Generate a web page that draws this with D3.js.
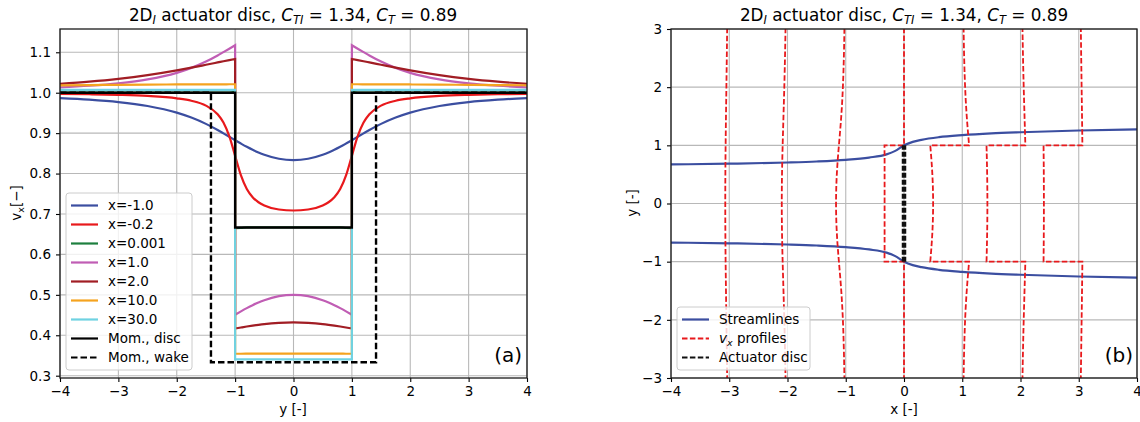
<!DOCTYPE html>
<html>
<head>
<meta charset="utf-8">
<script src="https://d3js.org/d3.v7.min.js"></script>
<style>
  body { margin: 0; background: #fff; }
  svg text { font-family: "DejaVu Sans", sans-serif; fill: #000; }
</style>
</head>
<body>
<svg width="1140" height="422"></svg>
<script>
// half profiles (y >= 0), mirrored about y = 0 when drawn
var yIn = [0, 0.25, 0.5, 0.6, 0.7, 0.8, 0.9, 1];
var yOut = [1, 1.1, 1.2, 1.3, 1.5, 1.75, 2, 2.5, 3, 3.5, 4];

// v_x; inside |y|<1 and outside |y|>1
var inM1 = [0.8333, 0.8366, 0.8465, 0.8522, 0.8588, 0.8662, 0.8742, 0.8825];
var outM1 = [0.8825, 0.8911, 0.8995, 0.9078, 0.9229, 0.9386, 0.9508, 0.9671, 0.9768, 0.9828, 0.9868];
var inM02 = [0.7086, 0.7111, 0.7211, 0.7291, 0.7415, 0.7617, 0.7953, 0.8439];
var outM02 = [0.8439, 0.8926, 0.9263, 0.9468, 0.9681, 0.9801, 0.9861, 0.9920, 0.9947, 0.9962, 0.9972];
var in0001 = [0.6667, 0.6667, 0.6667, 0.6667, 0.6667, 0.6667, 0.6655, 0.6650];
var out0001 = [1.003, 1.0, 1.0, 1.0, 1.0, 1.0, 1.0, 1.0, 1.0, 1.0, 1.0];
var in1 = [0.5000, 0.4967, 0.4868, 0.4811, 0.4745, 0.4671, 0.4591, 0.4508];
var out1 = [1.1175, 1.1089, 1.1005, 1.0922, 1.0771, 1.0614, 1.0492, 1.0329, 1.0232, 1.0172, 1.0132];
var in2 = [0.4317, 0.4306, 0.4276, 0.4258, 0.4238, 0.4216, 0.4192, 0.4167];
var out2 = [1.0833, 1.0806, 1.0778, 1.0749, 1.0691, 1.0619, 1.0551, 1.0433, 1.0341, 1.0272, 1.0220];
var in10 = [0.3545, 0.3545, 0.3544, 0.3544, 0.3544, 0.3544, 0.3543, 0.3543];
var out10 = [1.0209, 1.0209, 1.0208, 1.0208, 1.0207, 1.0206, 1.0204, 1.0200, 1.0194, 1.0189, 1.0183];
var in30 = [0.3404, 0.3404, 0.3404, 0.3404, 0.3404, 0.3404, 0.3404, 0.3404];
var out30 = [1.0071, 1.0071, 1.0071, 1.0071, 1.0071, 1.0071, 1.0071, 1.0071, 1.0071, 1.0070, 1.0070];

// extra stations for panel (b)
var inM3 = [0.9317, 0.9321, 0.9333, 0.9339, 0.9347, 0.9356, 0.9366, 0.9376];
var outM3 = [0.9376, 0.9387, 0.9399, 0.9412, 0.9438, 0.9473, 0.9508, 0.9577, 0.9640, 0.9694, 0.9740];
var inM2 = [0.9016, 0.9027, 0.9057, 0.9075, 0.9095, 0.9117, 0.9141, 0.9167];
var outM2 = [0.9167, 0.9194, 0.9222, 0.9251, 0.9309, 0.9381, 0.9449, 0.9567, 0.9659, 0.9728, 0.9780];
var in3 = [0.4016, 0.4012, 0.4000, 0.3994, 0.3986, 0.3977, 0.3967, 0.3957];
var out3 = [1.0624, 1.0613, 1.0601, 1.0588, 1.0562, 1.0527, 1.0492, 1.0423, 1.0360, 1.0306, 1.0260];

var seriesNames = ["x=-1.0", "x=-0.2", "x=0.001", "x=1.0", "x=2.0", "x=10.0", "x=30.0"];
var seriesColors = ["#3b4ea0", "#e8191c", "#1d7f3e", "#c05db4", "#a11d24", "#f5a31f", "#6fd2e2"];
var seriesIn = [inM1, inM02, in0001, in1, in2, in10, in30];
var seriesOut = [outM1, outM02, out0001, out1, out2, out10, out30];

var momDiscY = [-4, -1, -1, 1, 1, 4];
var momDiscV = [1, 1, 0.6667, 0.6667, 1, 1];
var momWakeY = [-4, -1.414, -1.414, 1.414, 1.414, 4];
var momWakeV = [1, 1, 0.3333, 0.3333, 1, 1];

var stations = [-3, -2, -1, 0, 1, 2, 3];
var stationIn = [inM3, inM2, inM1, in0001, in1, in2, in3];
var stationOut = [outM3, outM2, outM1, out0001, out1, out2, out3];

var streamX = [-4, -3, -2, -1.5, -1, -0.6, -0.3, -0.15, 0, 0.15, 0.3, 0.6, 1, 1.5, 2, 3, 4];
var streamUpper = [0.672, 0.684, 0.705, 0.722, 0.750, 0.790, 0.845, 0.905, 1.0, 1.06, 1.095, 1.14, 1.175, 1.205, 1.225, 1.255, 1.275];
var streamLower = [-0.672, -0.684, -0.705, -0.722, -0.750, -0.790, -0.845, -0.905, -1.0, -1.06, -1.095, -1.14, -1.175, -1.205, -1.225, -1.255, -1.275];

var ticksA = [-4, -3, -2, -1, 0, 1, 2, 3, 4];
var yTicksA = [0.3, 0.4, 0.5, 0.6, 0.7, 0.8, 0.9, 1.0, 1.1];
var yTicksB = [-3, -2, -1, 0, 1, 2, 3];

var svg = d3.select("svg");
var fmt = function (d) { return String(d).replace("-", "\u2212"); };

var xL = d3.scaleLinear().domain([-4, 4]).range([60, 527]);
var yL = d3.scaleLinear().domain([0.2943, 1.1576]).range([378, 29]);
var xR = d3.scaleLinear().domain([-4, 4]).range([671, 1137]);
var yR = d3.scaleLinear().domain([-3, 3]).range([378, 29]);

// mirror a half profile into pieces; continuous ones become one piece
function pieces(vin, vout) {
  var a = [], b = [], c = [];
  for (var i = yOut.length - 1; i >= 0; i--) a.push([-yOut[i], vout[i]]);
  for (var j = yIn.length - 1; j > 0; j--) b.push([-yIn[j], vin[j]]);
  for (j = 0; j < yIn.length; j++) b.push([yIn[j], vin[j]]);
  for (i = 0; i < yOut.length; i++) c.push([yOut[i], vout[i]]);
  if (Math.abs(vin[vin.length - 1] - vout[0]) < 1e-9) {
    return [a.concat(b.slice(1, b.length - 1)).concat(c)];
  }
  return [a, b, c];
}
function joined(line, segs) {
  return segs.map(function (s, i) { var p = line(s); return i ? "L" + p.slice(1) : p; }).join("");
}

function frame(xs, ys, id) {
  svg.append("clipPath").attr("id", id).append("rect")
    .attr("x", xs.range()[0]).attr("y", ys.range()[1])
    .attr("width", xs.range()[1] - xs.range()[0]).attr("height", ys.range()[0] - ys.range()[1]);
}
function grid(xs, ys, xt, yt) {
  var g = svg.append("g").attr("stroke", "#b8b8b8").attr("stroke-width", 1.1);
  g.selectAll(".gx").data(xt).enter().append("line")
    .attr("x1", xs).attr("x2", xs).attr("y1", ys.range()[0]).attr("y2", ys.range()[1]);
  g.selectAll(".gy").data(yt).enter().append("line")
    .attr("y1", ys).attr("y2", ys).attr("x1", xs.range()[0]).attr("x2", xs.range()[1]);
}
function axes(xs, ys, xt, yt, yfmt) {
  var gx = svg.append("g").attr("transform", "translate(0," + ys.range()[0] + ")")
    .call(d3.axisBottom(xs).tickValues(xt).tickSize(4).tickPadding(4).tickFormat(fmt));
  var gy = svg.append("g").attr("transform", "translate(" + xs.range()[0] + ",0)")
    .call(d3.axisLeft(ys).tickValues(yt).tickSize(4).tickPadding(5).tickFormat(yfmt));
  [gx, gy].forEach(function (g) {
    g.select(".domain").remove();
    g.selectAll("text").style("font-size", "13.5px").style("font-family", "DejaVu Sans");
    g.selectAll("line").attr("stroke", "#000").attr("stroke-width", 1.1);
  });
  svg.append("rect").attr("x", xs.range()[0]).attr("y", ys.range()[1])
    .attr("width", xs.range()[1] - xs.range()[0]).attr("height", ys.range()[0] - ys.range()[1])
    .attr("fill", "none").attr("stroke", "#1a1a1a").attr("stroke-width", 1.3);
}
function title(cx) {
  var t = svg.append("text").attr("x", cx).attr("y", 21).attr("text-anchor", "middle").style("font-size", "16.8px");
  t.append("tspan").text("2D");
  t.append("tspan").attr("dy", 3).style("font-size", "11.5px").style("font-style", "italic").text("I");
  t.append("tspan").attr("dy", -3).text(" actuator disc, ");
  t.append("tspan").style("font-style", "italic").text("C");
  t.append("tspan").attr("dy", 3).style("font-size", "11.5px").style("font-style", "italic").text("TI");
  t.append("tspan").attr("dy", -3).text(" = 1.34, ");
  t.append("tspan").style("font-style", "italic").text("C");
  t.append("tspan").attr("dy", 3).style("font-size", "11.5px").style("font-style", "italic").text("T");
  t.append("tspan").attr("dy", -3).text(" = 0.89");
}
function legendBox(x, y, w, h) {
  svg.append("rect").attr("x", x).attr("y", y).attr("width", w).attr("height", h).attr("rx", 3)
    .attr("fill", "#fff").attr("fill-opacity", 0.8).attr("stroke", "#cccccc").attr("stroke-width", 1);
}

// ---------- panel (a) ----------
frame(xL, yL, "clipA");
grid(xL, yL, ticksA, yTicksA);

var lineA = d3.line().x(function (d) { return xL(d[0]); }).y(function (d) { return yL(d[1]); })
  .curve(d3.curveMonotoneX);
var gA = svg.append("g").attr("clip-path", "url(#clipA)").attr("fill", "none");
seriesNames.forEach(function (n, i) {
  gA.append("path").attr("d", joined(lineA, pieces(seriesIn[i], seriesOut[i])))
    .attr("stroke", seriesColors[i]).attr("stroke-width", 2.2);
});
var lineStep = d3.line().x(function (d) { return xL(d[0]); }).y(function (d) { return yL(d[1]); });
gA.append("path").attr("d", lineStep(momDiscY.map(function (y, i) { return [y, momDiscV[i]]; })))
  .attr("stroke", "#000").attr("stroke-width", 2.4);
gA.append("path").attr("d", lineStep(momWakeY.map(function (y, i) { return [y, momWakeV[i]]; })))
  .attr("stroke", "#000").attr("stroke-width", 2.4).attr("stroke-dasharray", "6.5,3");

axes(xL, yL, ticksA, yTicksA, function (d) { return d.toFixed(1); });
title(293);

svg.append("text").attr("x", 293).attr("y", 414).attr("text-anchor", "middle").style("font-size", "13.5px").text("y [-]");
var ylab = svg.append("text").attr("transform", "translate(21,203) rotate(-90)").attr("text-anchor", "middle").style("font-size", "13.5px");
ylab.append("tspan").text("v");
ylab.append("tspan").attr("dy", 3).style("font-size", "9.5px").text("x");
ylab.append("tspan").attr("dy", -3).text("[\u2212]");
svg.append("text").attr("x", 522).attr("y", 362).attr("text-anchor", "end").style("font-size", "20px").text("(a)");

var legA = seriesNames.map(function (n, i) { return { name: n, color: seriesColors[i], dash: null }; })
  .concat([{ name: "Mom., disc", color: "#000", dash: null }, { name: "Mom., wake", color: "#000", dash: "6.5,3" }]);
legendBox(66, 193, 126, 177);
legA.forEach(function (e, i) {
  var cy = 205.5 + i * 19;
  svg.append("line").attr("x1", 71).attr("x2", 98).attr("y1", cy).attr("y2", cy)
    .attr("stroke", e.color).attr("stroke-width", 2.2).attr("stroke-dasharray", e.dash);
  svg.append("text").attr("x", 108).attr("y", cy).attr("dy", "0.35em").style("font-size", "13.5px").text(e.name);
});

// ---------- panel (b) ----------
frame(xR, yR, "clipB");
grid(xR, yR, ticksA, yTicksB);

var gB = svg.append("g").attr("clip-path", "url(#clipB)").attr("fill", "none");
var lineS = d3.line().x(function (d) { return xR(d[0]); }).y(function (d) { return yR(d[1]); })
  .curve(d3.curveMonotoneX);
[streamUpper, streamLower].forEach(function (s) {
  gB.append("path").attr("d", lineS(streamX.map(function (x, i) { return [x, s[i]]; })))
    .attr("stroke", "#3b4ea0").attr("stroke-width", 2.2);
});
stations.forEach(function (x0, k) {
  var lineP = d3.line().x(function (d) { return xR(x0 + d[1] - 1); }).y(function (d) { return yR(d[0]); })
    .curve(d3.curveMonotoneY);
  gB.append("path").attr("d", joined(lineP, pieces(stationIn[k], stationOut[k])))
    .attr("stroke", "#e8191c").attr("stroke-width", 1.8).attr("stroke-dasharray", "5.5,2.4");
});
gB.append("line").attr("x1", xR(0)).attr("x2", xR(0)).attr("y1", yR(-1)).attr("y2", yR(1))
  .attr("stroke", "#111").attr("stroke-width", 4.5).attr("stroke-dasharray", "5,2");

axes(xR, yR, ticksA, yTicksB, fmt);
title(904);

svg.append("text").attr("x", 904).attr("y", 414).attr("text-anchor", "middle").style("font-size", "13.5px").text("x [-]");
svg.append("text").attr("transform", "translate(637,203) rotate(-90)").attr("text-anchor", "middle").style("font-size", "13.5px").text("y [-]");
svg.append("text").attr("x", 1133).attr("y", 362).attr("text-anchor", "end").style("font-size", "20px").text("(b)");

legendBox(677, 307, 133, 63);
var legB = [{ name: "Streamlines", color: "#3b4ea0", dash: null, w: 2.2 },
            { name: " profiles", color: "#e8191c", dash: "5.5,2.4", w: 2.2, sub: true },
            { name: "Actuator disc", color: "#111", dash: "5.5,2.4", w: 2.2 }];
legB.forEach(function (e, i) {
  var cy = 319.5 + i * 19;
  svg.append("line").attr("x1", 682).attr("x2", 709).attr("y1", cy).attr("y2", cy)
    .attr("stroke", e.color).attr("stroke-width", e.w).attr("stroke-dasharray", e.dash);
  var t = svg.append("text").attr("x", 719).attr("y", cy).attr("dy", "0.35em").style("font-size", "13.5px");
  if (e.sub) {
    t.append("tspan").style("font-style", "italic").text("v");
    t.append("tspan").attr("dy", 3).style("font-size", "9.5px").style("font-style", "italic").text("x");
    t.append("tspan").attr("dy", -3).text(e.name);
  } else {
    t.text(e.name);
  }
});
</script>
</body>
</html>
